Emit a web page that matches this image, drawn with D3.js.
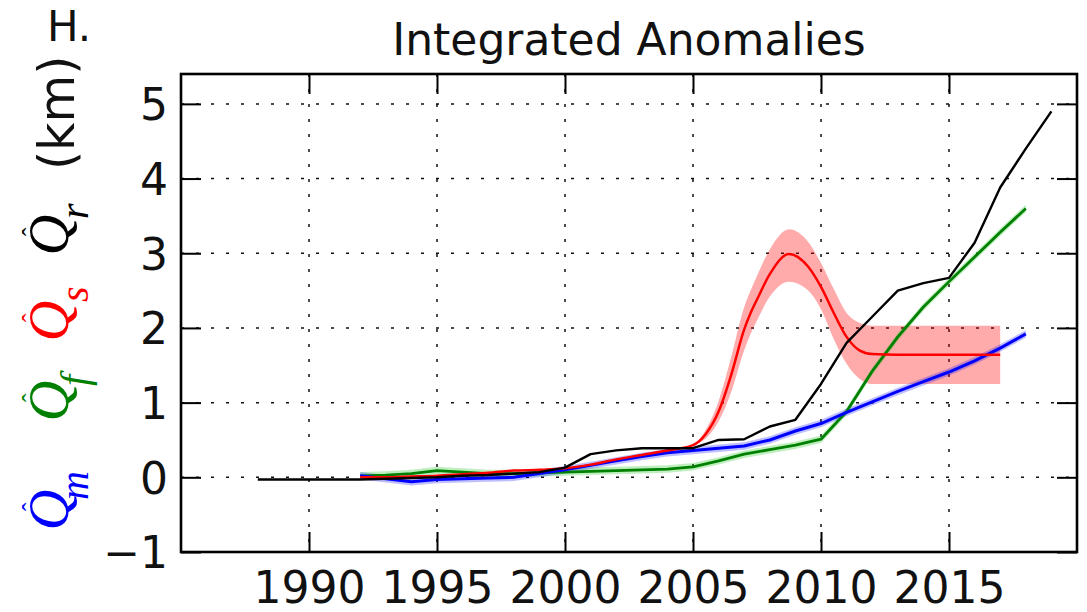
<!DOCTYPE html>
<html><head><meta charset="utf-8">
<script src="https://cdn.jsdelivr.net/npm/d3@7"></script>
<style>body{margin:0;background:#fff}</style>
</head><body>
<svg id="c" width="1087" height="612"></svg>
<script>
// ---------------- data ----------------
const xTicks = [1990, 1995, 2000, 2005, 2010, 2015];
const yTicks = [-1, 0, 1, 2, 3, 4, 5];

// Q_r (black)
const yearsR = [1988,1989,1990,1991,1992,1993,1994,1995,1996,1997,1998,1999,2000,2001,2002,2003,2004,2005,2006,2007,2008,2009,2010,2011,2012,2013,2014,2015,2016,2017,2018,2019];
const qr     = [-0.03,-0.03,-0.03,-0.03,-0.03,-0.02,-0.01,0.0,0.02,0.03,0.05,0.07,0.13,0.31,0.36,0.39,0.39,0.39,0.50,0.51,0.68,0.77,1.25,1.80,2.15,2.50,2.60,2.67,3.14,3.88,4.40,4.90];

// Q_m (blue)
const yearsM = [1992,1993,1994,1995,1996,1997,1998,1999,2000,2001,2002,2003,2004,2005,2006,2007,2008,2009,2010,2011,2012,2013,2014,2015,2016,2017,2018];
const qm     = [0.02,-0.02,-0.06,-0.03,-0.02,-0.01,0.0,0.05,0.10,0.16,0.22,0.28,0.33,0.36,0.39,0.42,0.50,0.62,0.72,0.87,1.01,1.15,1.28,1.41,1.56,1.73,1.92];

// Q_f (green)
const yearsF = [1992,1993,1994,1995,1996,1997,1998,1999,2000,2001,2002,2003,2004,2005,2006,2007,2008,2009,2010,2011,2012,2013,2014,2015,2016,2017,2018];
const qf     = [0.02,0.03,0.05,0.09,0.07,0.05,0.05,0.06,0.07,0.08,0.09,0.10,0.11,0.14,0.22,0.31,0.37,0.43,0.51,0.88,1.42,1.88,2.28,2.62,2.95,3.28,3.60];

// Q_s (red) with uncertainty band
const yearsS = [1992,1993,1994,1995,1996,1997,1998,1999,2000,2001,2002,2003,2004,2005,2005.5,2006,2006.5,2007,2007.25,2007.5,2008,2008.75,2009.5,2010,2010.5,2011,2011.5,2012,2013,2014,2015,2016,2017];
const qs     = [0.0,0.0,0.01,0.02,0.04,0.06,0.09,0.10,0.12,0.17,0.24,0.30,0.36,0.43,0.58,0.88,1.38,1.98,2.20,2.38,2.72,2.99,2.82,2.55,2.20,1.88,1.70,1.65,1.64,1.64,1.64,1.64,1.64];
const qsLo   = [0.0,0.0,0.01,0.02,0.04,0.06,0.09,0.10,0.12,0.17,0.24,0.30,0.36,0.43,0.52,0.75,1.15,1.70,1.92,2.10,2.42,2.62,2.50,2.25,1.85,1.52,1.32,1.25,1.25,1.25,1.25,1.25,1.25];
const qsHi   = [0.0,0.0,0.01,0.02,0.04,0.06,0.09,0.10,0.12,0.17,0.24,0.30,0.36,0.43,0.64,1.02,1.62,2.28,2.50,2.70,3.05,3.32,3.15,2.87,2.52,2.20,2.07,2.03,2.03,2.03,2.03,2.03,2.03];

// ---------------- chart ----------------
const svg = d3.select('#c');
const M = {l:181, r:1077, t:74, b:552};
const x = d3.scaleLinear().domain([1985, 2020]).range([M.l, M.r]);
const y = d3.scaleLinear().domain([-1, 5.4]).range([M.b, M.t]);
const FONT = "'DejaVu Sans', sans-serif";

// grid
const grid = svg.append('g');
grid.selectAll('line.vx').data(xTicks).join('line')
  .attr('x1', d => x(d)).attr('x2', d => x(d)).attr('y1', M.t).attr('y2', M.b)
  .attr('stroke', '#111').attr('stroke-width', 1.5).attr('stroke-dasharray', '3,12');
grid.selectAll('line.hy').data(yTicks).join('line')
  .attr('y1', d => y(d)).attr('y2', d => y(d)).attr('x1', M.l).attr('x2', M.r)
  .attr('stroke', '#111').attr('stroke-width', 1.5).attr('stroke-dasharray', '3,12');

const plot = svg.append('g');
function zipped(xs, ys) { return xs.map((v, i) => [v, ys[i]]); }

// bands
const areaS = d3.area().x((d, i) => x(yearsS[i])).y0((d, i) => y(qsLo[i])).y1((d, i) => y(qsHi[i])).curve(d3.curveMonotoneX);
plot.append('path').datum(qs).attr('d', areaS).attr('fill', '#ff0000').attr('fill-opacity', 0.33);

function halo(xs, ys, col) {
  const a = d3.area().x((d, i) => x(xs[i])).y0((d, i) => y(ys[i] - 0.05)).y1((d, i) => y(ys[i] + 0.05));
  plot.append('path').datum(ys).attr('d', a).attr('fill', col).attr('fill-opacity', 0.25);
}
halo(yearsF, qf, '#00c000');
halo(yearsM, qm, '#0000ff');

function line(xs, ys, col, w, curve) {
  const l = d3.line().x(d => x(d[0])).y(d => y(d[1])).curve(curve || d3.curveLinear);
  plot.append('path').datum(zipped(xs, ys)).attr('d', l)
    .attr('fill', 'none').attr('stroke', col).attr('stroke-width', w).attr('stroke-linejoin', 'round');
}
line(yearsF, qf, '#008000', 2.8);
line(yearsM, qm, '#0000ff', 3.0);
line(yearsS, qs, '#ff0000', 2.5, d3.curveMonotoneX);
line(yearsR, qr, '#000000', 2.4);

// axes with inward ticks
function styleAxis(g) {
  g.select('.domain').remove();
  g.selectAll('.tick line').attr('stroke', '#000').attr('stroke-width', 2);
  g.selectAll('text').attr('font-family', FONT).attr('font-size', 44).attr('fill', '#111');
}
const fmt = d => d < 0 ? '\u2212' + Math.abs(d) : String(d);
const gb = svg.append('g').attr('transform', `translate(0,${M.b})`)
  .call(d3.axisBottom(x).tickValues(xTicks).tickFormat(d3.format('d')).tickSize(-20).tickPadding(20));
styleAxis(gb);
gb.selectAll('text').attr('dy', 0).attr('y', 51);
const gt = svg.append('g').attr('transform', `translate(0,${M.t})`)
  .call(d3.axisTop(x).tickValues(xTicks).tickFormat('').tickSize(-20));
styleAxis(gt);
const gl = svg.append('g').attr('transform', `translate(${M.l},0)`)
  .call(d3.axisLeft(y).tickValues(yTicks).tickFormat(fmt).tickSize(-20).tickPadding(13));
styleAxis(gl);
gl.selectAll('text').attr('dy', '0.36em');
const gr = svg.append('g').attr('transform', `translate(${M.r},0)`)
  .call(d3.axisRight(y).tickValues(yTicks).tickFormat('').tickSize(-20));
styleAxis(gr);

// frame
svg.append('rect').attr('x', M.l).attr('y', M.t).attr('width', M.r - M.l).attr('height', M.b - M.t)
  .attr('fill', 'none').attr('stroke', '#000').attr('stroke-width', 2.6);

// title & panel label
svg.append('text').attr('x', (M.l + M.r) / 2).attr('y', 55).attr('text-anchor', 'middle')
  .attr('font-family', FONT).attr('font-size', 44).attr('fill', '#111').text('Integrated Anomalies');
svg.append('text').attr('x', 47).attr('y', 41)
  .attr('font-family', FONT).attr('font-size', 42).attr('fill', '#111').text('H.');

// y label (rotated)
const yl = svg.append('g').attr('transform', 'rotate(-90)');
const SERIF = "'Liberation Serif', 'DejaVu Serif', serif";
const pieces = [
  {sub: 'm', col: '#0000ff', qc: 510, sc: 500},
  {sub: 'f', col: '#008000', qc: 401, sc: 386},
  {sub: 's', col: '#ff0000', qc: 321, sc: 302},
  {sub: 'r', col: '#000000', qc: 235, sc: 219}
];
pieces.forEach(p => {
  yl.append('text').attr('x', -p.qc).attr('y', 68).attr('text-anchor', 'middle')
    .attr('font-family', SERIF).attr('font-style', 'italic').attr('font-size', 56).attr('fill', p.col).text('Q');
  yl.append('text').attr('x', -p.qc + 3).attr('y', 40).attr('text-anchor', 'middle')
    .attr('font-family', SERIF).attr('font-size', 26).attr('fill', p.col).text('\u02C6');
  yl.append('text').attr('x', -p.sc).attr('y', 88).attr('text-anchor', 'start')
    .attr('font-family', SERIF).attr('font-style', 'italic').attr('font-size', 40).attr('fill', p.col).text(p.sub);
});
yl.append('text').attr('x', -170).attr('y', 74).attr('text-anchor', 'start')
  .attr('font-family', FONT).attr('font-size', 49).attr('fill', '#111').text('(km)');
</script>
</body></html>
